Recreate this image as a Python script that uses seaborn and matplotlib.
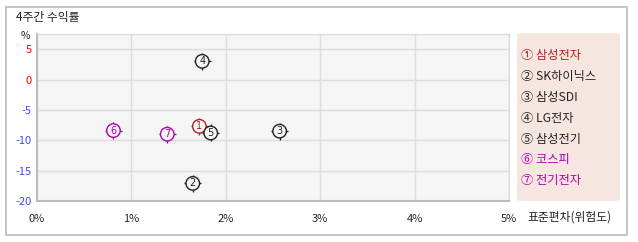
import matplotlib
matplotlib.use("Agg")
import matplotlib.pyplot as plt
import seaborn as sns
import pandas as pd
from matplotlib.patches import FancyBboxPatch, Rectangle

names = ["삼성전자", "SK하이닉스", "삼성SDI", "LG전자", "삼성전기", "코스피", "전기전자"]
nums = ["1", "2", "3", "4", "5", "6", "7"]
circled = ["①", "②", "③", "④", "⑤", "⑥", "⑦"]
std_dev = [1.72, 1.65, 2.57, 1.75, 1.84, 0.81, 1.38]
returns = [-7.7, -17.1, -8.5, 3.0, -8.8, -8.4, -9.0]
colors = ["#b22222", "#222222", "#222222", "#222222", "#222222", "#b000b0", "#b000b0"]
x_ticks = [0, 1, 2, 3, 4, 5]
x_labels = ["0%", "1%", "2%", "3%", "4%", "5%"]
y_ticks = [5, 0, -5, -10, -15, -20]

df = pd.DataFrame({"name": names, "x": std_dev, "y": returns, "num": nums})
palette = dict(zip(names, colors))

sns.set_theme(style="white")
plt.rcParams['font.family'] = ['Noto Sans CJK KR', 'DejaVu Sans']

W, H = 638, 242
fig = plt.figure(figsize=(W / 100, H / 100), dpi=100)
fig.patch.set_facecolor("white")

# outer border
fig.patches.append(Rectangle((6 / W, 1 - 235 / H), 621 / W, 228 / H, transform=fig.transFigure,
                             fill=False, edgecolor="#bbbbbb", linewidth=1.2))

ax = fig.add_axes([37 / W, 1 - 201 / H, 472 / W, 167 / H])
ax.set_facecolor("#f5f5f5")

# crosshair ticks behind circles
sns.scatterplot(data=df, x="x", y="y", hue="name", palette=palette, marker="+",
                s=150, linewidth=1.0, legend=False, ax=ax, zorder=3)
sns.scatterplot(data=df, x="x", y="y", hue="name", palette=palette, marker="o",
                s=95, linewidth=1.0, legend=False, ax=ax, zorder=4)
for c in ax.collections[1:]:
    ec = c.get_facecolors()
    c.set_edgecolors(ec)
    c.set_facecolors("#f5f5f5")
for i, r in df.iterrows():
    ax.text(r["x"], r["y"], r["num"], ha="center", va="center", fontsize=7,
            color=colors[i], zorder=5, family="DejaVu Sans")

ax.set_xlim(0, 5)
ax.set_ylim(-20, 7.5)
ax.set_xticks(x_ticks)
ax.set_xticklabels(x_labels)
ax.set_yticks(y_ticks)
ax.set_yticklabels([str(v) for v in y_ticks])
for lbl, v in zip(ax.get_yticklabels(), y_ticks):
    lbl.set_color("#ff0000" if v >= 0 else "#4444ff")
ax.tick_params(axis="both", length=0, labelsize=8)
ax.tick_params(axis="x", pad=9)
ax.tick_params(axis="y", pad=4)
ax.grid(True, color="#dddddd", linewidth=1)
ax.set_axisbelow(True)
for s in ["top", "right"]:
    ax.spines[s].set_color("#dddddd")
    ax.spines[s].set_linewidth(1)
for s in ["left", "bottom"]:
    ax.spines[s].set_color("#bbbbbb")
    ax.spines[s].set_linewidth(1.5)
ax.set_xlabel("")
ax.set_ylabel("")

fig.text(16 / W, 1 - 18 / H, "4주간 수익률", fontsize=8.5, va="center", ha="left", color="#222222")
fig.text(25 / W, 1 - 36 / H, "%", fontsize=7.5, va="center", ha="center", color="#222222")
fig.text(527 / W, 1 - 217 / H, "표준편차(위험도)", fontsize=8.5, va="center", ha="left", color="#222222")

# legend box
fig.patches.append(FancyBboxPatch((517 / W, 1 - 201 / H), 103 / W, 168 / H,
                                  boxstyle="round,pad=0,rounding_size=0.014",
                                  transform=fig.transFigure, facecolor="#f5e6df",
                                  edgecolor="none", mutation_aspect=H / W))
for i, (c, n, col) in enumerate(zip(circled, names, colors)):
    y = 56 + i * 20.8
    fig.text(521 / W, 1 - y / H, f"{c} {n}", fontsize=8.8, va="center", ha="left", color=col)

fig.savefig("out.png", dpi=100)
